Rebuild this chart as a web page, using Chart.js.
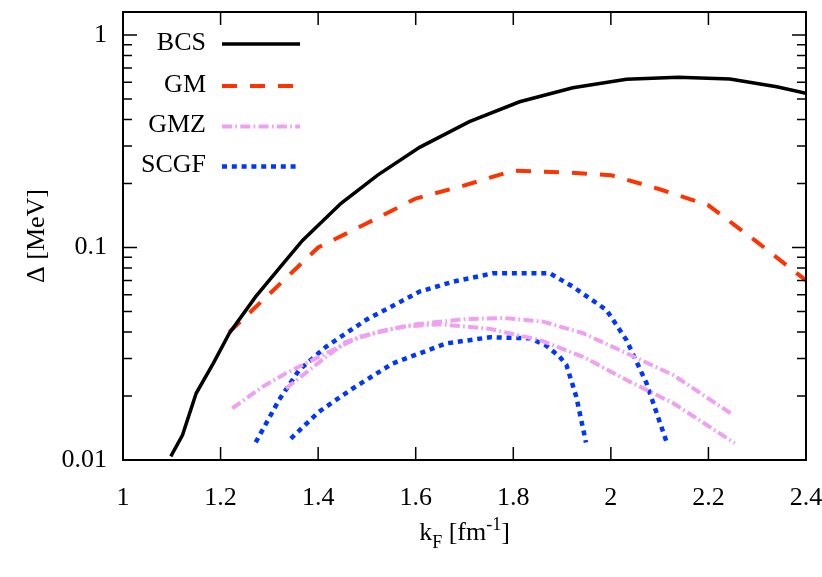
<!DOCTYPE html>
<html>
<head>
<meta charset="utf-8">
<script src="https://cdn.jsdelivr.net/npm/chart.js@4.4.1/dist/chart.umd.min.js"></script>
<style>
  html, body { margin: 0; padding: 0; background: #fff; }
  #wrap { width: 822px; height: 577px; }
</style>
</head>
<body>
<div id="wrap"><canvas id="gap" width="822" height="577"></canvas></div>
<script>
// ------------------ DADOS ------------------
const kBCS = [1.098, 1.122, 1.150, 1.185, 1.218, 1.272, 1.326, 1.368, 1.447, 1.522, 1.608, 1.710, 1.813, 1.922, 2.032, 2.138, 2.244, 2.340, 2.400];
const gapBCS = [0.0104, 0.0131, 0.0206, 0.0285, 0.0395, 0.0587, 0.0828, 0.108, 0.1615, 0.219, 0.296, 0.391, 0.485, 0.565, 0.619, 0.632, 0.621, 0.571, 0.532];

const kGM = [1.218, 1.40, 1.50, 1.60, 1.70, 1.80, 1.90, 2.00, 2.10, 2.20, 2.30, 2.40];
const gapGM = [0.040, 0.100, 0.130, 0.170, 0.196, 0.230, 0.226, 0.219, 0.188, 0.158, 0.106, 0.070];

const kGMZ1 = [1.224, 1.286, 1.334, 1.402, 1.485, 1.573, 1.65, 1.75, 1.854, 1.943, 2.032, 2.128, 2.254];
const gapGMZ1 = [0.0175, 0.0221, 0.0256, 0.0306, 0.038, 0.0424, 0.0435, 0.0415, 0.0367, 0.0306, 0.0238, 0.0185, 0.0120];
const kGMZ2 = [1.334, 1.395, 1.457, 1.53, 1.60, 1.70, 1.78, 1.861, 1.943, 2.032, 2.128, 2.247];
const gapGMZ2 = [0.0217, 0.028, 0.036, 0.0405, 0.0435, 0.0460, 0.0466, 0.0448, 0.0395, 0.0318, 0.0251, 0.0165];

const kSCGF1 = [1.272, 1.320, 1.361, 1.416, 1.498, 1.608, 1.676, 1.758, 1.875, 1.922, 1.991, 2.032, 2.073, 2.115];
const gapSCGF1 = [0.0121, 0.0192, 0.0265, 0.0341, 0.0456, 0.0620, 0.069, 0.0756, 0.0756, 0.0654, 0.0508, 0.0367, 0.0230, 0.0120];
const kSCGF2 = [1.344, 1.402, 1.471, 1.553, 1.663, 1.752, 1.834, 1.868, 1.895, 1.909, 1.929, 1.949];
const gapSCGF2 = [0.0126, 0.0169, 0.0217, 0.0285, 0.0354, 0.0378, 0.0374, 0.0345, 0.0306, 0.028, 0.0199, 0.0121];

const seriesNames = ["BCS", "GM", "GMZ", "SCGF"];
const xTickValues = [1, 1.2, 1.4, 1.6, 1.8, 2, 2.2, 2.4];
const xTickLabels = ["1", "1.2", "1.4", "1.6", "1.8", "2", "2.2", "2.4"];
const yTickValues = [0.01, 0.1, 1];
const yTickLabels = ["0.01", "0.1", "1"];

// ------------------ ESTILOS ------------------
const FONT = "Liberation Serif";
const styles = {
    BCS:  { color: "#000000", width: 3.5, dash: [] },
    GM:   { color: "#ff3300", width: 4, dash: [15, 13] },
    GMZ:  { color: "#f0a0f0", width: 4, dash: [10, 3.3, 1.7, 3.3] },
    SCGF: { color: "#0037ff", width: 4.5, dash: [5, 4.8] }
};

function pts(xs, ys) {
    return xs.map((x, i) => ({ x: x, y: ys[i] }));
}

function makeSet(name, xs, ys) {
    const s = styles[name];
    return {
        label: name,
        data: pts(xs, ys),
        borderColor: s.color,
        borderWidth: s.width,
        borderDash: s.dash,
        borderCapStyle: "butt",
        pointRadius: 0,
        tension: 0,
        fill: false
    };
}

// ------------------ PLUGIN: moldura, ticks internos, legenda, titulos ------------------
const framePlugin = {
    id: "framePlugin",
    afterDatasetsDraw(chart) {
        const { ctx, chartArea: a, scales } = chart;
        const xs = scales.x, ys = scales.y;
        ctx.save();
        ctx.strokeStyle = "#000";
        ctx.setLineDash([]);

        // ticks
        ctx.lineWidth = 1.5;
        ctx.beginPath();
        xTickValues.forEach(v => {
            const px = xs.getPixelForValue(v);
            ctx.moveTo(px, a.bottom); ctx.lineTo(px, a.bottom - 13);
            ctx.moveTo(px, a.top); ctx.lineTo(px, a.top + 13);
        });
        for (let dec = 0.01; dec < 2; dec *= 10) {
            for (let m = 1; m <= 9; m++) {
                const v = dec * m;
                if (v < ys.min - 1e-9 || v > ys.max) continue;
                const py = ys.getPixelForValue(v);
                const len = m === 1 ? 14 : 9;
                ctx.moveTo(a.left, py); ctx.lineTo(a.left + len, py);
                ctx.moveTo(a.right, py); ctx.lineTo(a.right - len, py);
            }
        }
        ctx.stroke();

        // moldura
        ctx.lineWidth = 2;
        ctx.strokeRect(a.left, a.top, a.right - a.left, a.bottom - a.top);

        // legenda
        ctx.font = "26px '" + FONT + "'";
        ctx.fillStyle = "#000";
        ctx.textAlign = "right";
        ctx.textBaseline = "middle";
        const rows = [44, 86, 126.5, 166.5];
        seriesNames.forEach((name, i) => {
            const s = styles[name];
            ctx.fillText(name, 206, rows[i] - 1);
            ctx.beginPath();
            ctx.strokeStyle = s.color;
            ctx.lineWidth = s.width;
            ctx.setLineDash(s.dash);
            ctx.lineCap = "butt";
            ctx.moveTo(222, rows[i]);
            ctx.lineTo(300, rows[i]);
            ctx.stroke();
        });
        ctx.setLineDash([]);

        // titulo eixo y
        ctx.save();
        ctx.translate(37, (a.top + a.bottom) / 2);
        ctx.rotate(-Math.PI / 2);
        ctx.textAlign = "center";
        ctx.textBaseline = "middle";
        ctx.fillStyle = "#000";
        ctx.font = "26px '" + FONT + "'";
        ctx.fillText("\u0394 [MeV]", 0, 0);
        ctx.restore();

        // titulo eixo x: k_F [fm^-1]
        const big = "26px '" + FONT + "'", small = "18px '" + FONT + "'";
        const parts = [
            { t: "k", f: big, dy: 0 },
            { t: "F", f: small, dy: 8 },
            { t: " [fm", f: big, dy: 0 },
            { t: "-1", f: small, dy: -10 },
            { t: "]", f: big, dy: 0 }
        ];
        let total = 0;
        parts.forEach(p => { ctx.font = p.f; p.w = ctx.measureText(p.t).width; total += p.w; });
        let x0 = (a.left + a.right) / 2 - total / 2;
        ctx.textAlign = "left";
        ctx.textBaseline = "alphabetic";
        parts.forEach(p => {
            ctx.font = p.f;
            ctx.fillText(p.t, x0, 540 + p.dy);
            x0 += p.w;
        });
        ctx.restore();
    }
};

function noPad(scale) {
    scale.paddingLeft = 0;
    scale.paddingRight = 0;
    scale.paddingTop = 0;
    scale.paddingBottom = 0;
}

const ctx = document.getElementById("gap").getContext("2d");
new Chart(ctx, {
    type: "line",
    data: {
        datasets: [
            makeSet("BCS", kBCS, gapBCS),
            makeSet("GM", kGM, gapGM),
            makeSet("GMZ", kGMZ1, gapGMZ1),
            makeSet("GMZ", kGMZ2, gapGMZ2),
            makeSet("SCGF", kSCGF1, gapSCGF1),
            makeSet("SCGF", kSCGF2, gapSCGF2)
        ]
    },
    options: {
        responsive: false,
        animation: false,
        devicePixelRatio: 1,
        layout: { padding: { left: 0, right: 16, top: 12, bottom: 0 } },
        plugins: {
            legend: { display: false },
            tooltip: { enabled: false }
        },
        scales: {
            x: {
                type: "linear",
                min: 1,
                max: 2.4,
                grid: { display: false, drawTicks: false },
                border: { display: false },
                afterBuildTicks: (scale) => {
                    scale.ticks = xTickValues.map(v => ({ value: v }));
                },
                afterFit: (scale) => { scale.height = 117; noPad(scale); },
                ticks: {
                    autoSkip: false,
                    maxRotation: 0,
                    padding: 23,
                    color: "#000",
                    font: { family: FONT, size: 26 },
                    callback: (value) => xTickLabels[xTickValues.indexOf(value)]
                }
            },
            y: {
                type: "logarithmic",
                min: 0.01,
                max: 1.283,
                grid: { display: false, drawTicks: false },
                border: { display: false },
                afterBuildTicks: (scale) => {
                    scale.ticks = yTickValues.map(v => ({ value: v, major: true }));
                },
                afterFit: (scale) => { scale.width = 123; noPad(scale); },
                ticks: {
                    autoSkip: false,
                    padding: 16,
                    color: "#000",
                    font: { family: FONT, size: 26 },
                    callback: (value) => yTickLabels[yTickValues.indexOf(value)]
                }
            }
        }
    },
    plugins: [framePlugin]
});
</script>
</body>
</html>
